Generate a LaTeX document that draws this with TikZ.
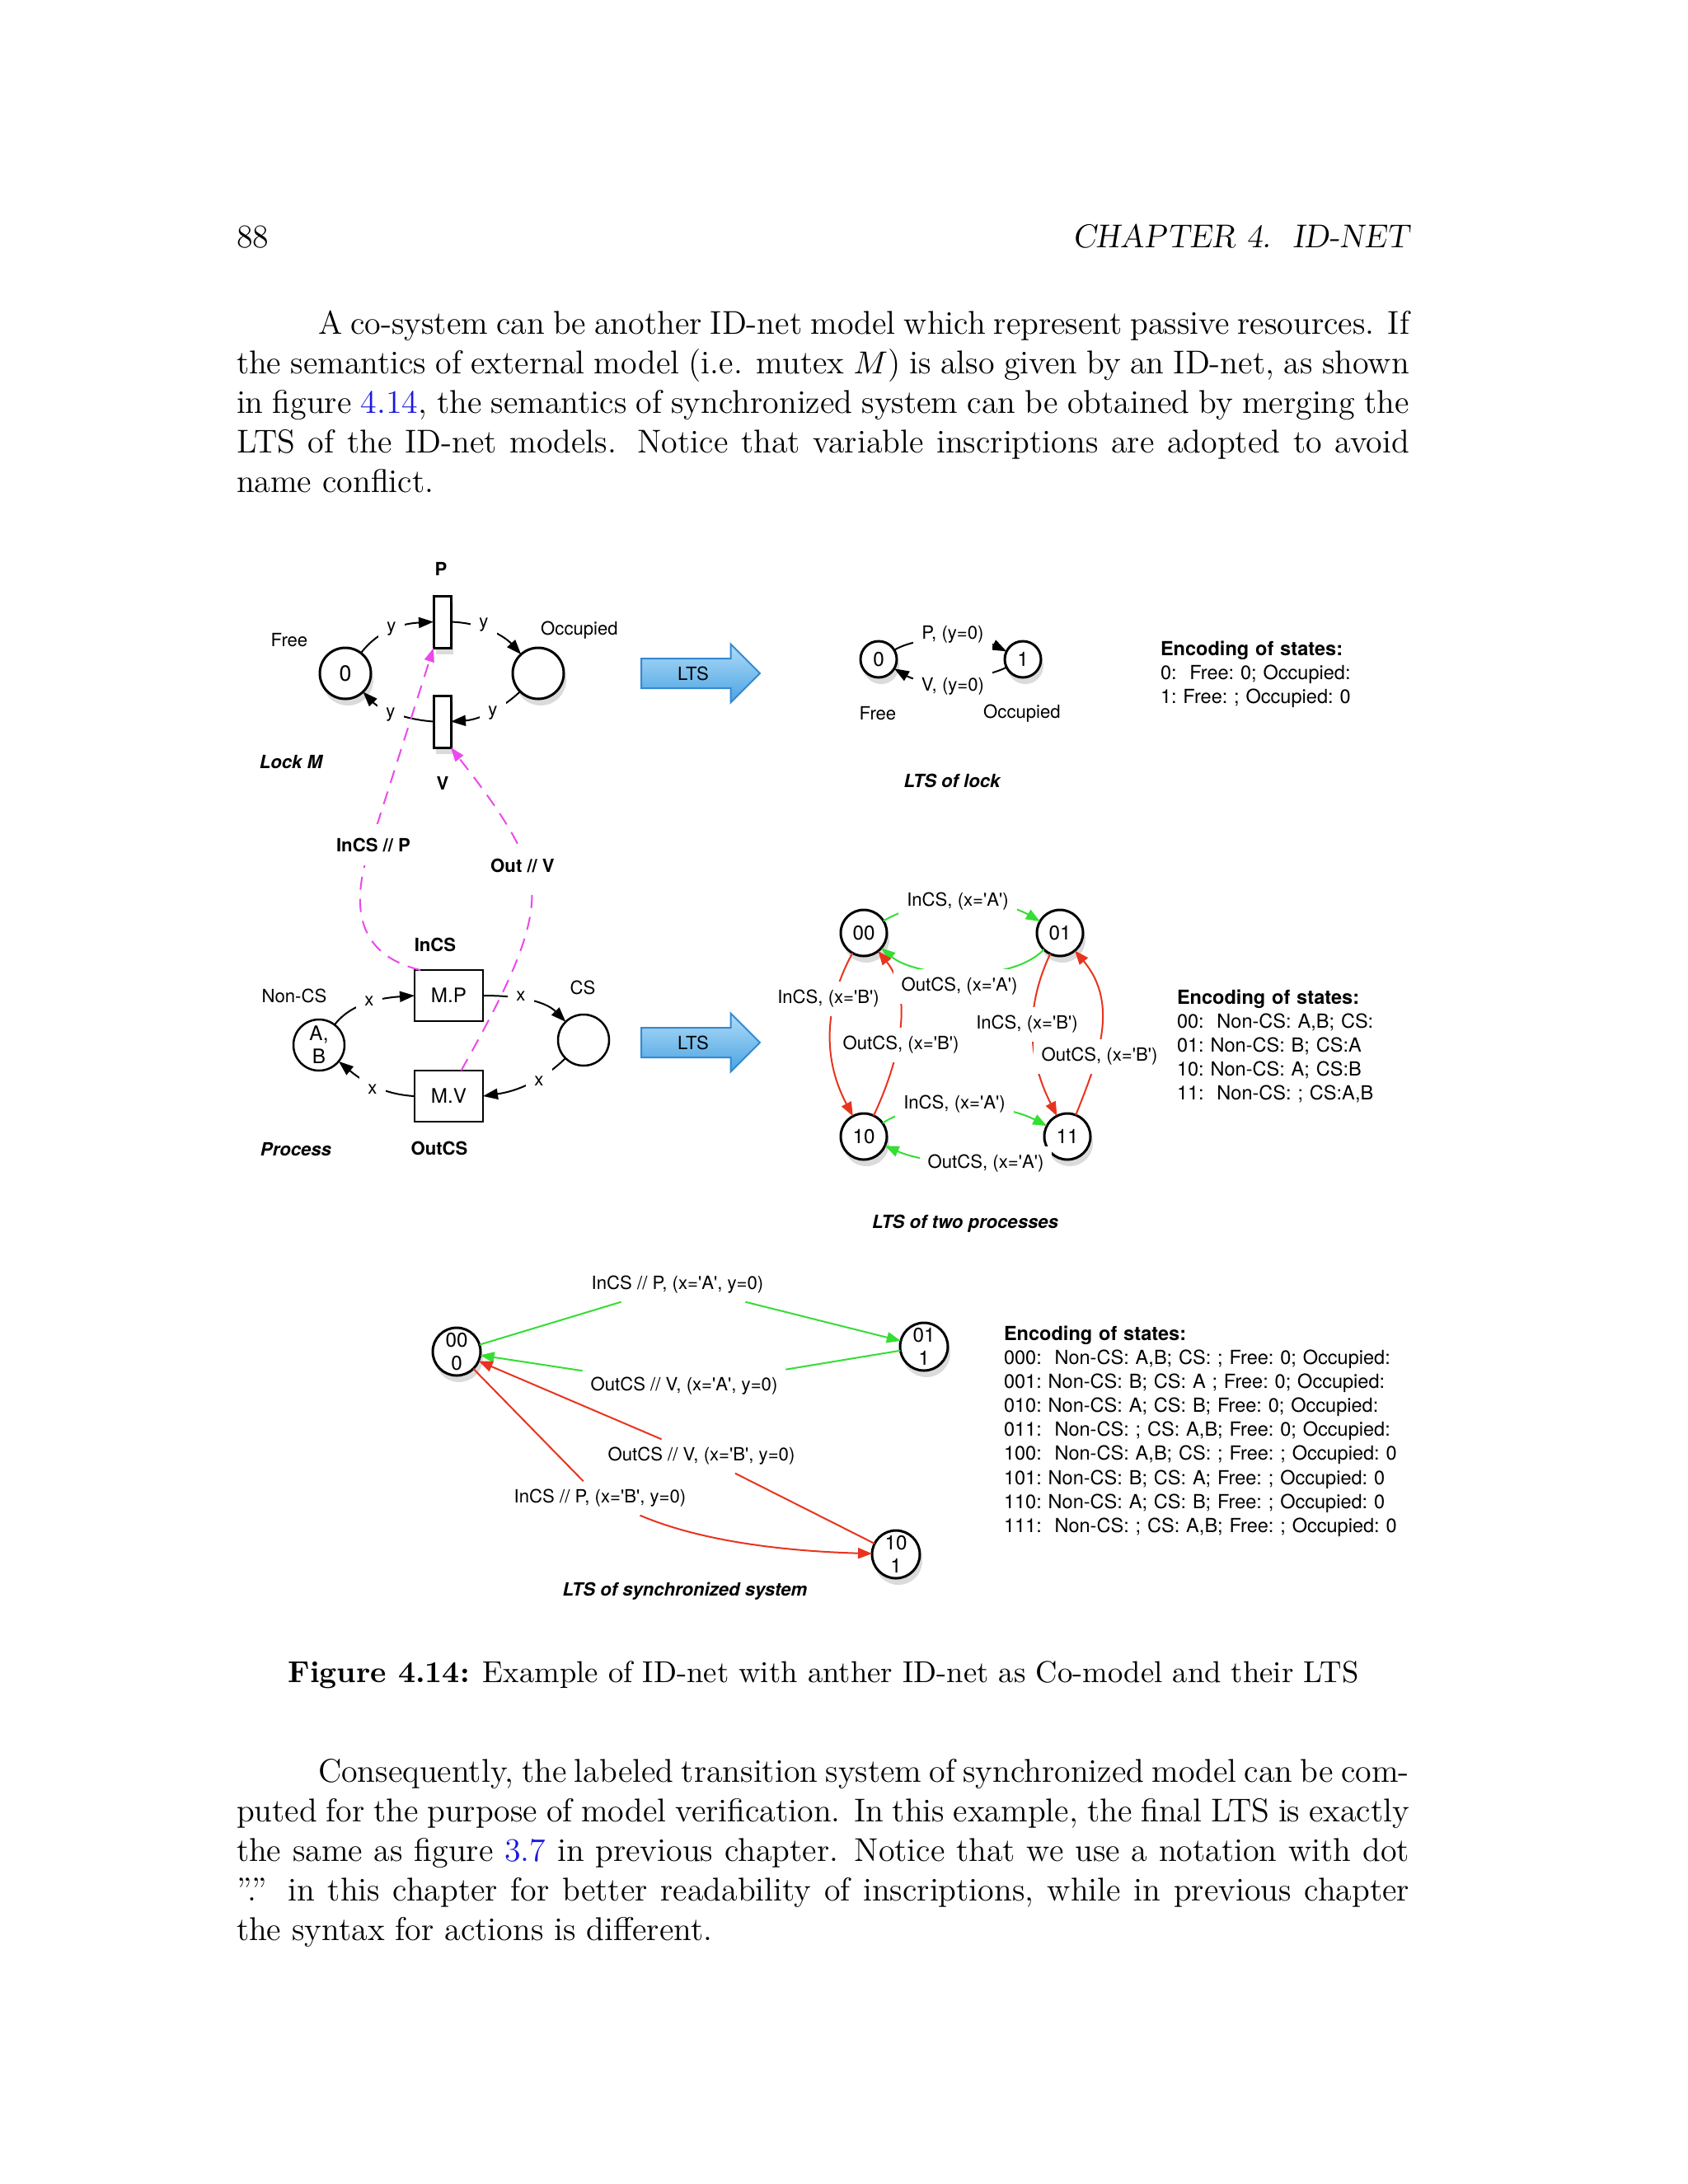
\documentclass[tikz,border=0pt]{standalone}
\usepackage{fontspec}
\usetikzlibrary{arrows.meta,shapes.arrows,shadows}

\newfontfamily\hv{TeX Gyre Heros}

\newcommand*{\pagew}{2048}
\newcommand*{\pageh}{2650}
\newcommand*{\bodyfont}{\fontsize{11.38}{13.72}\selectfont}
\newcommand*{\capfont}{\fontsize{10.43}{13}\selectfont}
\newcommand*{\lblfont}{\hv\fontsize{6.3}{7.6}\selectfont\frenchspacing}
\newcommand*{\encfont}{\hv\fontsize{6.7}{8.3}\selectfont\frenchspacing}
\newcommand*{\tokfont}{\hv\fontsize{6.9}{7.9}\selectfont}
\newcommand*{\sq}{\textquotesingle}

\definecolor{linkblue}{RGB}{25,25,225}
\definecolor{arcgreen}{RGB}{52,222,52}
\definecolor{arcred}{RGB}{232,52,30}
\definecolor{syncpink}{RGB}{236,72,236}
\definecolor{ltstop}{RGB}{176,220,247}
\definecolor{ltsbot}{RGB}{74,163,227}
\definecolor{ltsline}{RGB}{52,138,210}

\begin{document}
\begin{tikzpicture}
[
	x=0.1mm,
	y=-0.1mm,
	every node/.style={inner sep=0pt,outer sep=0pt},
	body/.style={font=\bodyfont,text width=142.3mm,align=justify,anchor=base west},
	softshadow/.style={drop shadow={shadow xshift=0.3mm,shadow yshift=-0.8mm,opacity=0.28}},
	netplace/.style={circle,draw,line width=0.3mm,fill=white,minimum size=6.2mm,font=\tokfont,align=center},
	trans/.style={rectangle,draw,line width=0.3mm,fill=white,minimum width=2.1mm,minimum height=6.3mm},
	mbox/.style={rectangle,draw,line width=0.25mm,fill=white,minimum width=8.3mm,minimum height=6.2mm,font=\tokfont},
	ltsstate/.style={circle,draw,line width=0.3mm,fill=white,minimum size=#1,font=\tokfont,align=center},
	netarc/.style={line width=0.2mm,-{Triangle[length=1.8mm,width=1.3mm]}},
	grnarc/.style={arcgreen,line width=0.2mm,-{Triangle[length=1.7mm,width=1.3mm]}},
	redarc/.style={arcred,line width=0.2mm,-{Triangle[length=1.7mm,width=1.3mm]}},
	syncarc/.style={syncpink,line width=0.2mm,dash pattern=on 1.6mm off 1.1mm,-{Triangle[length=1.7mm,width=1.2mm]}},
	lbl/.style={font=\lblfont,fill=white,inner sep=1mm},
	txt/.style={font=\lblfont},
	boldtxt/.style={font=\lblfont\bfseries},
	synclbl/.style={font=\lblfont\bfseries,fill=white,inner xsep=1mm,inner ysep=1.7mm},
	ltstitle/.style={font=\lblfont\bfseries\itshape},
	enc/.style={font=\encfont,text width=62mm,align=left,anchor=base west},
	ltsarrow/.style={single arrow,draw=ltsline,line width=0.2mm,top color=ltstop,bottom color=ltsbot,
		minimum width=7.1mm,minimum height=14.4mm,single arrow head extend=1.7mm,font=\lblfont,inner sep=0.8mm}
]

	% page
	\fill[white] (0,0) rectangle (\pagew,\pageh);
	\useasboundingbox (0,0) rectangle (\pagew,\pageh);

	% running head
	\node[font=\bodyfont,anchor=base west] (pagenum) at (287,300) {88};
	\node[font=\bodyfont\slshape,anchor=base east] (runhead) at (1710,300) {CHAPTER 4.\ \ ID-NET};

	% text before the figure
	\node[body] (par1) at (287,405) {\hspace*{9.9mm}A co-system can be another ID-net model which represent passive resources. If\linebreak
	the semantics of external model (i.e. mutex $M$) is also given by an ID-net, as shown\linebreak
	in figure \textcolor{linkblue}{4.14}, the semantics of synchronized system can be obtained by merging the\linebreak
	LTS of the ID-net models. Notice that variable inscriptions are adopted to avoid\linebreak
	name conflict.};

	% lock M
	\node[netplace,softshadow,font=\hv\fontsize{7.6}{9}\selectfont] (free) at (419,817) {0};
	\node[netplace,softshadow] (occupied) at (653,817) {};
	\node[trans,softshadow] (tP) at (536.5,754.5) {};
	\node[trans,softshadow] (tV) at (536.5,875.5) {};
	\draw[netarc] (free) .. controls (455,770) and (480,757) .. (tP.west);
	\draw[netarc] (tP.east) .. controls (590,756) and (615,775) .. (occupied);
	\draw[netarc] (occupied) .. controls (615,855) and (585,873) .. (tV.east);
	\draw[netarc] (tV.west) .. controls (490,873) and (460,860) .. (free);
	\node[lbl] (yfree) at (475,763) {y};
	\node[lbl] (yocc) at (587,758) {y};
	\node[lbl] (yback) at (598,865) {y};
	\node[lbl] (yrel) at (474,867) {y};
	\node[txt] (lfree) at (351,777) {Free};
	\node[txt] (locc) at (703,765) {Occupied};
	\node[boldtxt] (lP) at (535,690) {P};
	\node[boldtxt] (lV) at (537,950) {V};
	\node[ltstitle] (llock) at (353,925) {Lock M};

	% process
	\node[netplace,line width=0.25mm] (noncs) at (387,1268) {A,\\B};
	\node[netplace,line width=0.25mm] (cs) at (708,1262) {};
	\node[mbox] (tMP) at (544.5,1208) {M.P};
	\node[mbox] (tMV) at (544.5,1330) {M.V};
	\draw[netarc] (noncs) .. controls (420,1225) and (445,1212) .. (tMP.west);
	\draw[netarc] (tMP.east) .. controls (640,1208) and (665,1218) .. (cs);
	\draw[netarc] (cs) .. controls (670,1300) and (640,1322) .. (tMV.east);
	\draw[netarc] (tMV.west) .. controls (465,1328) and (440,1312) .. (noncs);
	\node[lbl] (xin) at (448,1215) {x};
	\node[lbl] (xcs) at (632,1209) {x};
	\node[lbl] (xout) at (654,1312) {x};
	\node[lbl] (xback) at (452,1322) {x};
	\node[txt] (lnoncs) at (357,1208) {Non-CS};
	\node[txt] (lcs) at (707,1198) {CS};
	\node[boldtxt] (lincs) at (528,1146) {InCS};
	\node[boldtxt] (loutcs) at (533,1393) {OutCS};
	\node[ltstitle] (lproc) at (359,1395) {Process};

	% synchronisation of the two nets
	\draw[syncarc] ([xshift=0.7mm]tMP.north west) .. controls (440,1160) and (425,1110) .. (445,1040) -- (tP.south west);
	\draw[syncarc] ([xshift=1.5mm]tMV.north) .. controls (615,1200) and (650,1130) .. (645,1075)
		.. controls (640,1030) and (600,975) .. (tV.south east);
	\node[synclbl] (syncP) at (453,1025) {InCS // P};
	\node[synclbl] (syncV) at (634,1050) {Out // V};

	% LTS arrows
	\node[ltsarrow] (lts1) at (841,817) {LTS};
	\node[ltsarrow] (lts2) at (841,1265) {LTS};

	% LTS of lock
	\node[ltsstate=4.4mm,softshadow] (q0) at (1066,800) {0};
	\node[ltsstate=4.4mm,softshadow] (q1) at (1241,800) {1};
	\draw[netarc] (q0) .. controls (1120,768) and (1190,775) .. (q1);
	\draw[netarc] (q1) .. controls (1190,825) and (1120,832) .. (q0);
	\node[lbl] (lpq) at (1156,770) {P, (y=0)};
	\node[lbl] (lvq) at (1156,833) {V, (y=0)};
	\node[txt] (lq0) at (1065,866) {Free};
	\node[txt] (lq1) at (1240,866) {Occupied};
	\node[ltstitle] (lltslock) at (1155,947) {LTS of lock};
	\node[enc] (enclock) at (1408,795) {\textbf{Encoding of states:}\\
		0:\ \ Free: 0; Occupied:\\
		1: Free: ; Occupied: 0};

	% LTS of two processes
	\node[ltsstate=5.6mm,softshadow] (n00) at (1048,1132) {00};
	\node[ltsstate=5.6mm,softshadow] (n01) at (1286,1132) {01};
	\node[ltsstate=5.6mm,softshadow] (n10) at (1048,1379) {10};
	\node[ltsstate=5.6mm,softshadow] (n11) at (1295,1379) {11};
	\draw[grnarc] (n00) .. controls (1120,1088) and (1210,1088) .. (n01);
	\draw[grnarc] (n01) .. controls (1225,1195) and (1110,1185) .. (n00);
	\draw[redarc] (n00) .. controls (1010,1200) and (990,1270) .. (n10);
	\draw[redarc] (n10) .. controls (1090,1290) and (1110,1210) .. (n00);
	\draw[redarc] (n01) .. controls (1245,1220) and (1245,1280) .. (n11);
	\draw[redarc] (n11) .. controls (1330,1290) and (1360,1220) .. (n01);
	\draw[grnarc] (n10) .. controls (1110,1335) and (1210,1335) .. (n11);
	\draw[grnarc] (n11) .. controls (1240,1420) and (1130,1415) .. (n10);
	\node[lbl] (ea) at (1162,1094) {InCS, (x=\sq A\sq)};
	\node[lbl] (eb) at (1164,1197) {OutCS, (x=\sq A\sq)};
	\node[lbl] (ec) at (1005,1212) {InCS, (x=\sq B\sq)};
	\node[lbl] (ed) at (1093,1268) {OutCS, (x=\sq B\sq)};
	\node[lbl] (ee) at (1246,1243) {InCS, (x=\sq B\sq)};
	\node[lbl] (ef) at (1334,1282) {OutCS, (x=\sq B\sq)};
	\node[lbl] (eg) at (1158,1340) {InCS, (x=\sq A\sq)};
	\node[lbl] (eh) at (1196,1412) {OutCS, (x=\sq A\sq)};
	\node[ltstitle] (lltstwo) at (1171,1485) {LTS of two processes};
	\node[enc] (enctwo) at (1428,1218) {\textbf{Encoding of states:}\\
		00:\ \ Non-CS: A,B; CS:\\
		01: Non-CS: B; CS:A\\
		10: Non-CS: A; CS:B\\
		11:\ \ Non-CS: ; CS:A,B};

	% LTS of synchronized system
	\node[ltsstate=5.8mm,softshadow] (m000) at (554,1640) {00\\0};
	\node[ltsstate=5.8mm,softshadow] (m011) at (1121,1634) {01\\1};
	\node[ltsstate=5.8mm,softshadow] (m101) at (1087,1886) {10\\1};
	\node[lbl] (fa) at (822,1559) {InCS // P, (x=\sq A\sq, y=0)};
	\node[lbl] (fb) at (830,1682) {OutCS // V, (x=\sq A\sq, y=0)};
	\node[lbl] (fc) at (851,1767) {OutCS // V, (x=\sq B\sq, y=0)};
	\node[lbl] (fd) at (728,1818) {InCS // P, (x=\sq B\sq, y=0)};
	\draw[grnarc] (m000) -- (fa) -- (m011);
	\draw[grnarc] (m011) -- (fb) -- (m000);
	\draw[redarc] (m101) -- (fc) -- (m000);
	\draw[redarc] (m000) -- (fd) .. controls (850,1870) and (950,1882) .. (m101);
	\node[ltstitle] (lltssync) at (831,1931) {LTS of synchronized system};
	\node[enc] (encsync) at (1218,1626) {\textbf{Encoding of states:}\\
		000:\ \ Non-CS: A,B; CS: ; Free: 0; Occupied:\\
		001: Non-CS: B; CS: A ; Free: 0; Occupied:\\
		010: Non-CS: A; CS: B; Free: 0; Occupied:\\
		011:\ \ Non-CS: ; CS: A,B; Free: 0; Occupied:\\
		100:\ \ Non-CS: A,B; CS: ; Free: ; Occupied: 0\\
		101: Non-CS: B; CS: A; Free: ; Occupied: 0\\
		110: Non-CS: A; CS: B; Free: ; Occupied: 0\\
		111:\ \ Non-CS: ; CS: A,B; Free: ; Occupied: 0};

	% caption
	\node[font=\capfont,anchor=base] (caption) at (999,2041) {\textbf{Figure 4.14:} Example of ID-net with anther ID-net as Co-model and their LTS};

	% text after the figure
	\node[body] (par2) at (287,2162) {\hspace*{9.9mm}Consequently, the labeled transition system of synchronized model can be com-\linebreak
	puted for the purpose of model verification. In this example, the final LTS is exactly\linebreak
	the same as figure \textcolor{linkblue}{3.7} in previous chapter. Notice that we use a notation with dot\linebreak
	”.” in this chapter for better readability of inscriptions, while in previous chapter\linebreak
	the syntax for actions is different.};

\end{tikzpicture}
\end{document}
